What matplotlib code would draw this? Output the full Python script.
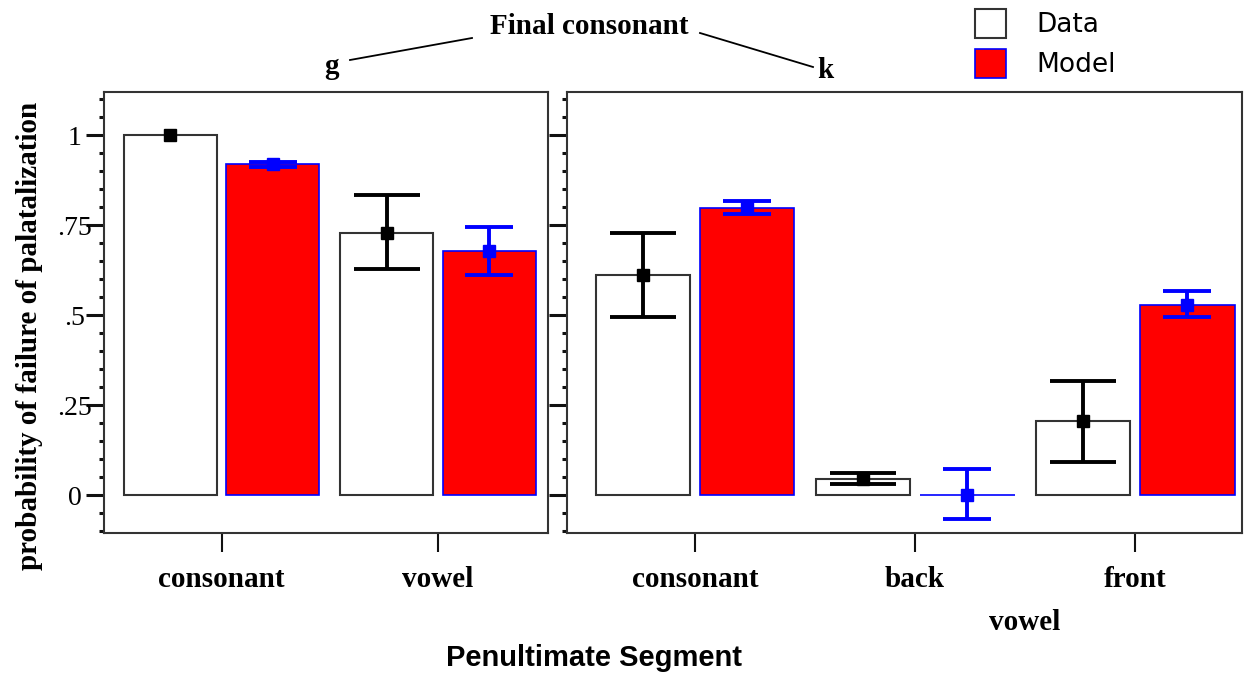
import numpy as np
import matplotlib
matplotlib.use("Agg")
import matplotlib.pyplot as plt
from matplotlib.patches import Patch
from matplotlib.lines import Line2D

# final consonant g
g_labels = ["consonant", "vowel"]
g_data = [1.0, 0.729]
g_data_lo = [1.0, 0.628]
g_data_hi = [1.0, 0.833]
g_model = [0.919, 0.679]
g_model_lo = [0.913, 0.611]
g_model_hi = [0.925, 0.744]

# final consonant k
k_labels = ["consonant", "back", "front"]
k_data = [0.612, 0.046, 0.206]
k_data_lo = [0.494, 0.032, 0.092]
k_data_hi = [0.727, 0.061, 0.317]
k_model = [0.797, 0.0, 0.529]
k_model_lo = [0.782, -0.066, 0.494]
k_model_hi = [0.817, 0.072, 0.567]

y_ticks = [0, 0.25, 0.5, 0.75, 1]
y_ticklabels = ["0", ".25", ".5", ".75", "1"]

serif = "Liberation Serif"
W, H = 1249, 674
fig = plt.figure(figsize=(W / 100, H / 100), dpi=100)

ax_g = fig.add_axes([104 / W, 1 - 533 / H, 444 / W, 441 / H])
ax_k = fig.add_axes([567 / W, 1 - 533 / H, 675 / W, 441 / H])

width = 0.43
off = 0.237


def draw_errors(ax, x, val, lo, hi, color, capsize):
    val, lo, hi = np.array(val), np.array(lo), np.array(hi)
    has_err = hi > lo
    # interval only where there is one, the square marker everywhere
    ax.errorbar(x[has_err], val[has_err],
                yerr=[val[has_err] - lo[has_err], hi[has_err] - val[has_err]],
                fmt="none", ecolor=color, elinewidth=2.8,
                capsize=capsize, capthick=2.8, zorder=3)
    ax.plot(x, val, "s", color=color, markersize=8.5, zorder=4)


def draw_panel(ax, labels, data, dlo, dhi, model, mlo, mhi):
    x = np.arange(len(labels))
    ax.bar(x - off, data, width, color="white", edgecolor="#333333", linewidth=1.5, zorder=2)
    ax.bar(x + off, model, width, color="#ff0000", edgecolor="#0000ff", linewidth=1.2, zorder=2)
    draw_errors(ax, x - off, data, dlo, dhi, "black", 23.5)
    draw_errors(ax, x + off, model, mlo, mhi, "#0000ff", 17)
    ax.set_ylim(-0.105, 1.12)
    ax.set_yticks(y_ticks)
    ax.set_yticks(np.arange(-0.1, 1.11, 0.05), minor=True)
    ax.set_xticks(x)
    ax.set_xticklabels(labels, family=serif, fontweight="bold", fontsize=21)
    ax.tick_params(axis="x", length=14, width=1.5, pad=10, color="#111111")
    ax.tick_params(axis="y", which="major", length=13, width=2.2, color="#111111")
    ax.tick_params(axis="y", which="minor", length=3.5, width=2.2, color="#111111")
    for s in ax.spines.values():
        s.set_linewidth(1.5)
        s.set_color("#333333")


draw_panel(ax_g, g_labels, g_data, g_data_lo, g_data_hi, g_model, g_model_lo, g_model_hi)
draw_panel(ax_k, k_labels, k_data, k_data_lo, k_data_hi, k_model, k_model_lo, k_model_hi)

ax_g.set_xlim(-0.543, 1.508)
ax_k.set_xlim(-0.582, 2.486)

ax_g.set_yticklabels(y_ticklabels, family=serif, fontsize=20, ha="center")
ax_g.tick_params(axis="y", which="major", pad=8)
ax_k.set_yticklabels([])

# second level label under back/front
ax_k.text(1.5, -0.204, "vowel", transform=ax_k.get_xaxis_transform(),
          ha="center", va="center", family=serif, fontweight="bold", fontsize=21)

fig.text(30 / W, 1 - 336 / H, "probability of failure of palatalization", rotation=90,
         ha="center", va="center", family=serif, fontweight="bold", fontsize=21)
fig.text(594 / W, 1 - 658 / H, "Penultimate Segment", ha="center", va="center",
         family="Liberation Sans", fontweight="bold", fontsize=21)

# header: Final consonant with branches to g and k
fig.text(589 / W, 1 - 26 / H, "Final consonant", ha="center", va="center",
         family=serif, fontweight="bold", fontsize=21)
fig.text(331 / W, 1 - 66 / H, "g", ha="center", va="center",
         family=serif, fontweight="bold", fontsize=21)
fig.text(825 / W, 1 - 71 / H, "k", ha="center", va="center",
         family=serif, fontweight="bold", fontsize=21)
fig.add_artist(Line2D([350 / W, 472 / W], [1 - 60 / H, 1 - 38 / H], color="black", linewidth=1.3))
fig.add_artist(Line2D([700 / W, 813 / W], [1 - 33 / H, 1 - 67 / H], color="black", linewidth=1.3))

handles = [
    Patch(facecolor="white", edgecolor="#333333", linewidth=1.5),
    Patch(facecolor="#ff0000", edgecolor="#0000ff", linewidth=1.2),
]
fig.legend(handles, ["Data", "Model"], loc="upper left",
           bbox_to_anchor=(951 / W, 1 + 15 / H), frameon=False,
           prop={"family": "DejaVu Sans", "size": 19},
           handlelength=1.17, handleheight=1.34, handletextpad=1.15,
           labelspacing=0.4)

fig.savefig("out.png", dpi=100, facecolor="white")
